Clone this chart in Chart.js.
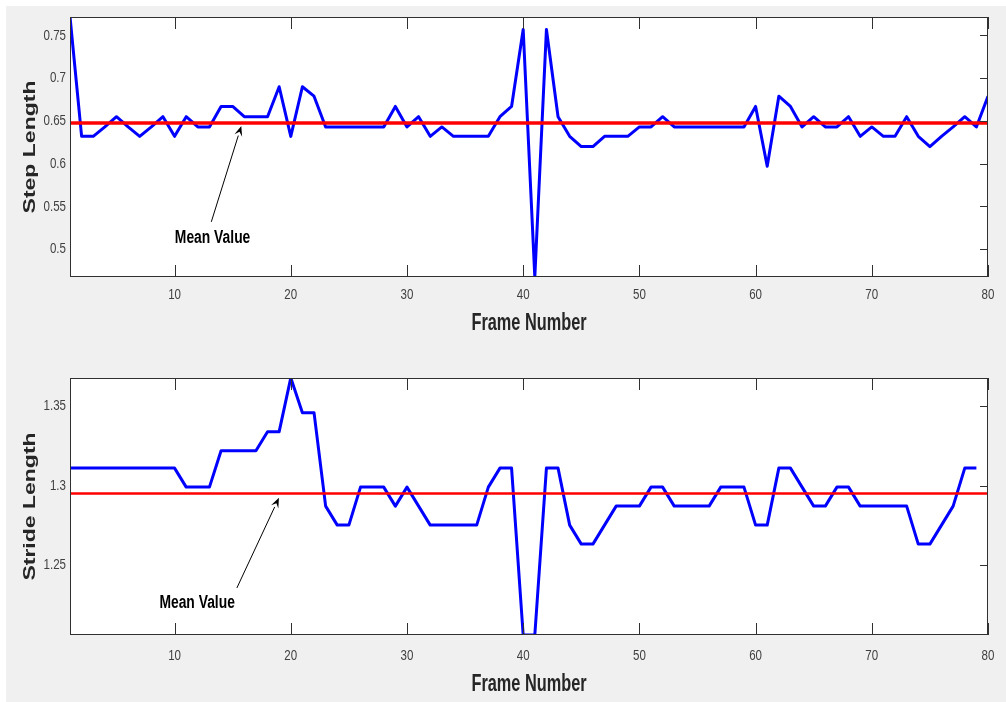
<!DOCTYPE html>
<html><head><meta charset="utf-8">
<script src="https://cdn.jsdelivr.net/npm/chart.js@4.4.1/dist/chart.umd.min.js"></script>
<style>
html,body{margin:0;padding:0;background:#fff;overflow:hidden;}
#bg{position:absolute;left:6px;top:6px;width:1000px;height:696px;background:#f0f0f0;}
#c1{position:absolute;left:0;top:0;}
#c2{position:absolute;left:0;top:345px;}
</style></head><body>
<div id="bg"></div>
<canvas id="c1" width="1006" height="345"></canvas>
<canvas id="c2" width="1006" height="357"></canvas>
<script>
// ---- data ----
const stepLength = [
  0.772, 0.632, 0.632, 0.643, 0.655, 0.643, 0.632, 0.643, 0.655, 0.632,
  0.655, 0.643, 0.643, 0.667, 0.667, 0.655, 0.655, 0.655, 0.690, 0.632,
  0.690, 0.679, 0.643, 0.643, 0.643, 0.643, 0.643, 0.643, 0.667, 0.643,
  0.655, 0.632, 0.643, 0.632, 0.632, 0.632, 0.632, 0.655, 0.667, 0.757,
  0.4675, 0.757, 0.655, 0.632, 0.620, 0.620, 0.632, 0.632, 0.632, 0.643,
  0.643, 0.655, 0.643, 0.643, 0.643, 0.643, 0.643, 0.643, 0.643, 0.667,
  0.597, 0.679, 0.667, 0.643, 0.655, 0.643, 0.643, 0.655, 0.632, 0.643,
  0.632, 0.632, 0.655, 0.632, 0.620, 0.632, 0.643, 0.655, 0.643, 0.679
];
const strideLength = [
  1.311, 1.311, 1.311, 1.311, 1.311, 1.311, 1.311, 1.311, 1.311, 1.311,
  1.299, 1.299, 1.299, 1.322, 1.322, 1.322, 1.322, 1.334, 1.334, 1.368,
  1.346, 1.346, 1.287, 1.275, 1.275, 1.299, 1.299, 1.299, 1.287, 1.299,
  1.287, 1.275, 1.275, 1.275, 1.275, 1.275, 1.299, 1.311, 1.311, 1.2056,
  1.2056, 1.311, 1.311, 1.275, 1.263, 1.263, 1.275, 1.287, 1.287, 1.287,
  1.299, 1.299, 1.287, 1.287, 1.287, 1.287, 1.299, 1.299, 1.299, 1.275,
  1.275, 1.311, 1.311, 1.299, 1.287, 1.287, 1.299, 1.299, 1.287, 1.287,
  1.287, 1.287, 1.287, 1.263, 1.263, 1.275, 1.287, 1.311, 1.311
];
const stepMean = 0.6477;
const strideMean = 1.295;
const frameRange = [1, 80];
const xTicks = [10, 20, 30, 40, 50, 60, 70, 80];
const stepYTicks = [0.5, 0.55, 0.6, 0.65, 0.7, 0.75];
const strideYTicks = [1.25, 1.3, 1.35];
const stepRange = [0.4675, 0.7716];
const strideRange = [1.2056, 1.3679];
const xLabel = 'Frame Number';
const stepLabel = 'Step Length';
const strideLabel = 'Stride Length';
const annotationText = 'Mean Value';
// annotation anchors in data coordinates: [tailX, tailY, headX, headY, textX, textY]
const stepArrow = [13.16, 0.532, 15.74, 0.6441, 13.27, 0.5128];
const strideArrow = [15.36, 1.2353, 18.98, 1.2922, 11.94, 1.226];

// ---- rendering ----
const sans = "'Liberation Sans',Arial,sans-serif";

// the reference picture is horizontally squeezed; reproduce that on the text
function squeezeFor(text) {
  if (text === xLabel) return 0.68;
  return 0.77;
}
function patchText(ctx) {
  if (ctx.__patched) return;
  ctx.__patched = true;
  const orig = ctx.fillText.bind(ctx);
  ctx.fillText = function (text, x, y, maxWidth) {
    const m = ctx.getTransform();
    ctx.save();
    ctx.translate(x, y);
    if (Math.abs(m.b) > 1e-6 || Math.abs(m.c) > 1e-6) {
      ctx.scale(1, 0.72);           // rotated title: squeeze glyph height
    } else {
      ctx.scale(squeezeFor(text), 1);
    }
    orig(text, 0, 0);
    ctx.restore();
  };
}

const matlabFrame = {
  id: 'matlabFrame',
  beforeInit(chart) { patchText(chart.ctx); },
  beforeDraw(chart) {
    const a = chart.chartArea, ctx = chart.ctx;
    ctx.save();
    ctx.fillStyle = '#ffffff';
    ctx.fillRect(a.left, a.top, a.right - a.left, a.bottom - a.top);
    ctx.restore();
  },
  afterDatasetsDraw(chart, args, opts) {
    const a = chart.chartArea, ctx = chart.ctx;
    const xs = chart.scales.x, ys = chart.scales.y;
    ctx.save();
    ctx.strokeStyle = '#303030';
    ctx.lineWidth = 1;
    ctx.strokeRect(Math.round(a.left) + 0.5, Math.round(a.top) + 0.5,
                   Math.round(a.right - a.left) - 1, Math.round(a.bottom - a.top) - 1);
    ctx.beginPath();
    xs.ticks.forEach(t => {
      const px = Math.round(xs.getPixelForValue(t.value)) + 0.5;
      ctx.moveTo(px, a.bottom); ctx.lineTo(px, a.bottom - 12);
      ctx.moveTo(px, a.top); ctx.lineTo(px, a.top + 12);
    });
    ys.ticks.forEach(t => {
      const py = Math.round(ys.getPixelForValue(t.value)) + 0.5;
      ctx.moveTo(a.right, py); ctx.lineTo(a.right - 8, py);
    });
    ctx.stroke();
    const ar = opts.arrow;
    if (ar) {
      const x0 = xs.getPixelForValue(ar[0]), y0 = ys.getPixelForValue(ar[1]);
      const x1 = xs.getPixelForValue(ar[2]), y1 = ys.getPixelForValue(ar[3]);
      const ang = Math.atan2(y1 - y0, x1 - x0);
      const L = 10, W = 4;
      const bx = x1 - L * Math.cos(ang), by = y1 - L * Math.sin(ang);
      ctx.strokeStyle = '#000';
      ctx.lineWidth = 1;
      ctx.beginPath(); ctx.moveTo(x0, y0); ctx.lineTo(bx, by); ctx.stroke();
      ctx.fillStyle = '#000';
      ctx.beginPath();
      ctx.moveTo(x1, y1);
      ctx.lineTo(bx + W * Math.sin(ang), by - W * Math.cos(ang));
      ctx.lineTo(x1 - 0.6 * L * Math.cos(ang), y1 - 0.6 * L * Math.sin(ang));
      ctx.lineTo(bx - W * Math.sin(ang), by + W * Math.cos(ang));
      ctx.closePath(); ctx.fill();
      ctx.font = "bold 18px " + sans;
      ctx.textAlign = 'center'; ctx.textBaseline = 'middle';
      ctx.fillText(opts.text, xs.getPixelForValue(ar[4]), ys.getPixelForValue(ar[5]));
    }
    ctx.restore();
  }
};

function makeChart(id, c) {
  return new Chart(document.getElementById(id), {
    type: 'line',
    data: {
      datasets: [
        { data: [{x: frameRange[0], y: c.mean}, {x: frameRange[1], y: c.mean}],
          borderColor: '#ff0000', borderWidth: c.meanWidth, pointRadius: 0, order: 0 },
        { data: c.values.map((v, i) => ({x: i + 1, y: v})),
          borderColor: '#0000ff', borderWidth: 3, pointRadius: 0, order: 1,
          borderJoinStyle: 'round' }
      ]
    },
    options: {
      responsive: false, animation: false, devicePixelRatio: 1,
      layout: { padding: { top: c.padTop, right: 18, left: 0, bottom: 0 } },
      elements: { line: { tension: 0 } },
      plugins: { legend: { display: false }, tooltip: { enabled: false },
                 matlabFrame: { arrow: c.arrow, text: annotationText } },
      scales: {
        x: {
          type: 'linear', min: frameRange[0], max: frameRange[1],
          grid: { display: false, drawTicks: false }, border: { display: false },
          afterBuildTicks: s => { s.ticks = xTicks.map(v => ({value: v})); },
          afterFit: s => { s.height = c.xAxisHeight; s.paddingLeft = 0; s.paddingRight = 0; },
          ticks: { padding: c.xTickPad, color: '#404040', autoSkip: false, maxRotation: 0,
                   font: { family: sans, size: 15 }, callback: v => String(v) },
          title: { display: true, text: xLabel, color: '#262626',
                   font: { family: sans, size: 24, weight: 'bold' },
                   padding: { top: 0, bottom: c.xTitlePad } }
        },
        y: {
          type: 'linear', min: c.range[0], max: c.range[1],
          grid: { display: false, drawTicks: false }, border: { display: false },
          afterBuildTicks: s => { s.ticks = c.yTicks.map(v => ({value: v})); },
          afterFit: s => { s.width = 70; s.paddingTop = 0; s.paddingBottom = 0; },
          ticks: { padding: 4, color: '#404040', autoSkip: false,
                   font: { family: sans, size: 15 }, callback: v => String(v) },
          title: { display: true, text: c.yTitle, color: '#262626',
                   font: { family: sans, size: 23, weight: 'bold' },
                   padding: { top: 17, bottom: 0 } }
        }
      }
    },
    plugins: [matlabFrame]
  });
}

makeChart('c1', { values: stepLength, mean: stepMean, meanWidth: 3.5, range: stepRange,
  yTicks: stepYTicks, yTitle: stepLabel, padTop: 17, xAxisHeight: 68,
  xTickPad: 9, xTitlePad: 7, arrow: stepArrow });
makeChart('c2', { values: strideLength, mean: strideMean, meanWidth: 2.5, range: strideRange,
  yTicks: strideYTicks, yTitle: strideLabel, padTop: 33, xAxisHeight: 67,
  xTickPad: 12, xTitlePad: 3, arrow: strideArrow });
</script>
</body></html>
